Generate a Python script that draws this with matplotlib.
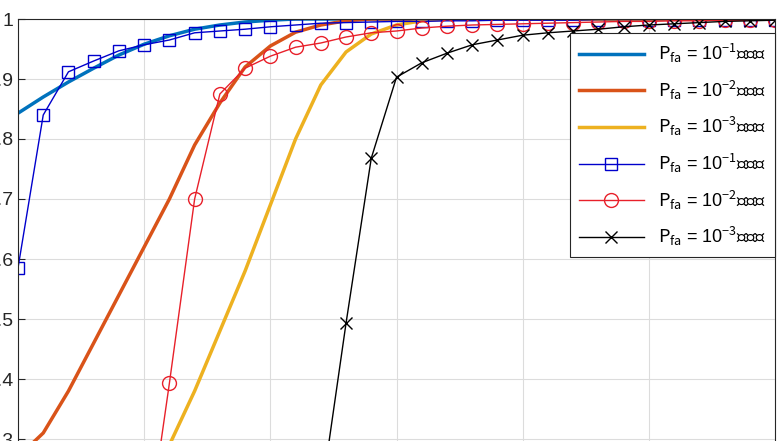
import numpy as np
import matplotlib.pyplot as plt

plt.rcParams['font.family'] = ['Liberation Sans', 'Noto Sans CJK SC']
plt.rcParams['mathtext.fontset'] = 'custom'
plt.rcParams['mathtext.rm'] = 'Noto Sans CJK SC'
plt.rcParams['mathtext.it'] = 'Noto Sans CJK SC'

snr = np.arange(0, 31)

theory1 = [0.843, 0.87, 0.895, 0.918, 0.94, 0.958, 0.972, 0.983, 0.99, 0.995, 0.998] + [1.0] * 20
theory2 = [0.27, 0.31, 0.38, 0.46, 0.54, 0.62, 0.70, 0.79, 0.86, 0.92, 0.955, 0.978, 0.99, 0.997] + [1.0] * 17
theory3 = [0.05, 0.08, 0.1, 0.12, 0.14, 0.21, 0.29, 0.38, 0.48, 0.58, 0.69, 0.80, 0.89, 0.945, 0.975, 0.99, 0.997] + [1.0] * 14

actual1 = [0.585, 0.84, 0.912, 0.93, 0.947, 0.957, 0.965, 0.977, 0.98, 0.983, 0.987, 0.99, 0.993,
           0.994, 0.995, 0.996, 0.996, 0.997, 0.997, 0.998, 0.998, 0.998, 0.998, 0.999, 0.999,
           0.999, 0.999, 0.999, 0.999, 0.999, 0.999]
actual2 = [0.0, 0.0, 0.01, 0.02, 0.04, 0.1, 0.393, 0.70, 0.875, 0.918, 0.938, 0.953, 0.96, 0.97,
           0.977, 0.98, 0.985, 0.988, 0.99, 0.991, 0.992, 0.993, 0.994, 0.995, 0.996, 0.996,
           0.997, 0.997, 0.998, 0.998, 0.998]
actual3 = [0.0] * 10 + [0.02, 0.08, 0.2, 0.493, 0.768, 0.903, 0.927, 0.943, 0.957, 0.965, 0.973,
                        0.977, 0.98, 0.983, 0.987, 0.99, 0.992, 0.994, 0.996, 0.997, 0.998]

fig = plt.figure(figsize=(7.84, 4.41), dpi=100)
ax = fig.add_axes([18 / 784, -58 / 441, 757 / 784, 480 / 441])

ax.plot(snr, theory1, color='#0072BD', lw=2.5, label=r'$P_{fa}$ = 10$^{-1}$理论值')
ax.plot(snr, theory2, color='#D95319', lw=2.5, label=r'$P_{fa}$ = 10$^{-2}$理论值')
ax.plot(snr, theory3, color='#EDB120', lw=2.5, label=r'$P_{fa}$ = 10$^{-3}$理论值')
ax.plot(snr, actual1, color='#0000CC', lw=1, marker='s', ms=8, mfc='none', label=r'$P_{fa}$ = 10$^{-1}$实际值')
ax.plot(snr, actual2, color='#E8202A', lw=1, marker='o', ms=10, mfc='none', label=r'$P_{fa}$ = 10$^{-2}$实际值')
ax.plot(snr, actual3, color='black', lw=1, marker='x', ms=8, label=r'$P_{fa}$ = 10$^{-3}$实际值')

ax.set_xlim(0, 30)
ax.set_ylim(0.2, 1.0)
ax.set_xticks(np.arange(0, 31, 5))
ax.set_xticklabels([])
ax.set_yticks(np.arange(0.2, 1.01, 0.1))
ax.set_yticklabels(['0.2', '0.3', '0.4', '0.5', '0.6', '0.7', '0.8', '0.9', '1'])
ax.tick_params(labelsize=14, direction='in', length=5, color='#262626', labelcolor='#262626')
ax.grid(True, color='#DCDCDC', lw=0.8)
for s in ax.spines.values():
    s.set_color('#262626')

leg = ax.legend(loc='upper right', bbox_to_anchor=(775 / 784, 1 - 33 / 441),
                bbox_transform=fig.transFigure, borderaxespad=0, fontsize=13,
                fancybox=False, edgecolor='#262626', framealpha=1,
                handlelength=3.6, labelspacing=0.75, borderpad=0.5)
leg.get_frame().set_linewidth(0.8)

fig.savefig('out.png', dpi=100)
